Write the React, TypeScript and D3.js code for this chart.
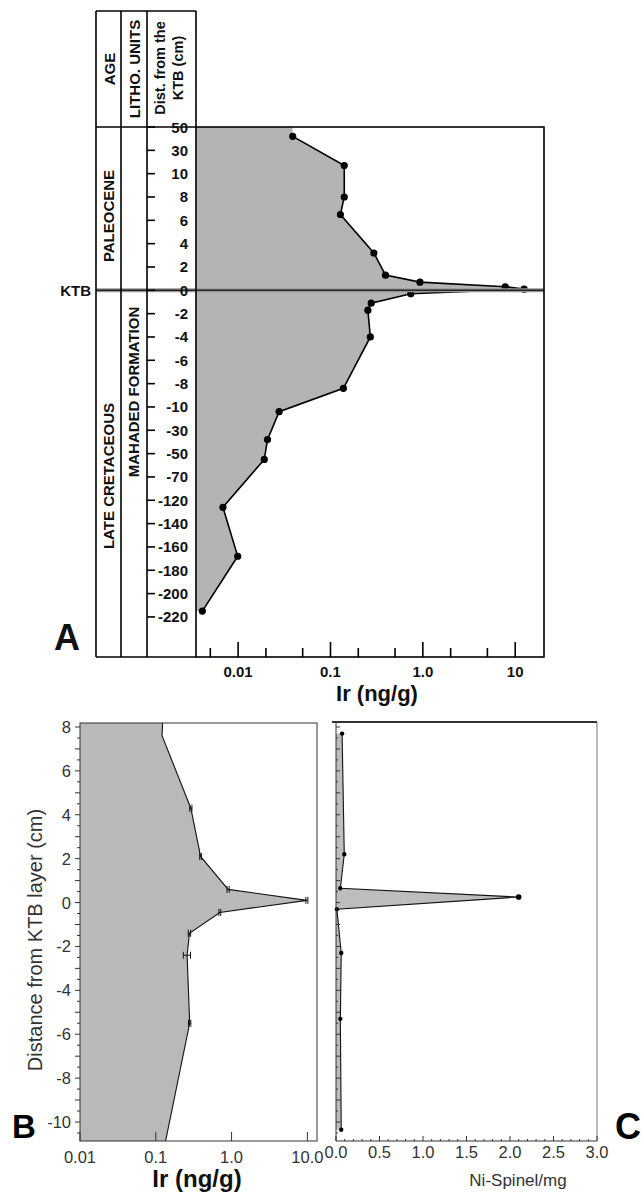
import React from "react";
import * as d3 from "d3";

const F = "'Liberation Sans', Arial, Helvetica, sans-serif";

// panel A : Ir across the KTB, uneven depth axis
const depthTicksA = [50, 30, 10, 8, 6, 4, 2, 0, -2, -4, -6, -8, -10, -30, -50, -70, -120, -140, -160, -180, -200, -220];
const distA = [42, 17, 8, 6.5, 3.2, 1.3, 0.7, 0.3, 0.1, -0.3, -1.1, -1.7, -4, -8.4, -14, -38, -55, -126, -168, -215];
const irA = [0.039, 0.141, 0.141, 0.128, 0.295, 0.394, 0.93, 7.8, 12.5, 0.74, 0.276, 0.254, 0.27, 0.138, 0.0278, 0.0208, 0.0192, 0.00685, 0.0099, 0.0041];
const irMajorA = [0.01, 0.1, 1, 10];
const irMajorLabelsA = ["0.01", "0.1", "1.0", "10"];
const irMinorA = [0.005, 0.02, 0.05, 0.2, 0.5, 2, 5];

// panel B : Ir with error bars
const distB = [8.2, 7.6, 4.3, 2.1, 0.6, 0.1, -0.45, -1.4, -2.4, -5.5, -10.9];
const irB = [0.123, 0.121, 0.29, 0.39, 0.9, 9.85, 0.7, 0.278, 0.259, 0.28, 0.134];
const errB = [0, 0, 0.01, 0.01, 0.03, 0.3, 0.02, 0.01, 0.028, 0.01, 0];
const distTicksB = [8, 6, 4, 2, 0, -2, -4, -6, -8, -10];
const irTicksB = [0.01, 0.1, 1, 10];
const irTickLabelsB = ["0.01", "0.1", "1.0", "10.0"];

// panel C : Ni-spinel
const distC = [7.7, 2.2, 0.65, 0.25, -0.3, -2.3, -5.3, -10.35];
const spinelC = [0.07, 0.095, 0.05, 2.1, 0.01, 0.06, 0.05, 0.06];
const spinelTicksC = [0, 0.5, 1, 1.5, 2, 2.5, 3];

export default function App() {
  // ---- panel A
  const aL = 196, aR = 544, aT = 127, aB = 657;
  const cols = [96, 121, 147];
  const yA = d3.scaleLinear().domain(depthTicksA).range(depthTicksA.map((_, i) => aT + i * 23.33));
  const xA = d3.scaleLog().domain([0.0035, 20.5]).range([aL, aR]);
  const ptsA = distA.map((d, i) => ({ d, v: irA[i] }));
  const fillA = d3.area<any>().y((p) => yA(p.d)).x0(aL).x1((p) => xA(p.v))([{ d: depthTicksA[0], v: irA[0] }, ...ptsA]);
  const lineA = d3.line<any>().x((p) => xA(p.v)).y((p) => yA(p.d))(ptsA);
  const ktbY = yA(0);

  // ---- panel B
  const bL = 80, bR = 317, bT = 723, bB = 1141;
  const yB = d3.scaleLinear().domain([-10, 8]).range([1122, 727]);
  const xB = d3.scaleLog().domain([0.01, 13.4]).range([bL, bR]);
  const ptsB = distB.map((d, i) => ({ d, v: irB[i], e: errB[i] }));
  const fillB = d3.area<any>().y((p) => yB(p.d)).x0(bL).x1((p) => xB(p.v))(ptsB);
  const lineB = d3.line<any>().x((p) => xB(p.v)).y((p) => yB(p.d))(ptsB);
  const minorB = d3.range(-21, 17).map((i) => i / 2);

  // ---- panel C
  const cL = 336, cR = 597, cT = 722, cB = 1141;
  const xC = d3.scaleLinear().domain([0, 3]).range([cL, cR]);
  const ptsC = distC.map((d, i) => ({ d, v: spinelC[i] }));
  const fillC = d3.area<any>().y((p) => yB(p.d)).x0(cL).x1((p) => xC(p.v))(ptsC);
  const lineC = d3.line<any>().x((p) => xC(p.v)).y((p) => yB(p.d))(ptsC);
  const minorCx = d3.range(0, 31).map((i) => i / 10);

  const rot = (x: number, y: number) => `translate(${x},${y}) rotate(-90)`;

  return (
    <svg width={641} height={1196} style={{ position: "absolute", left: 0, top: 0, background: "#fff" }} fontFamily={F}>
      <defs>
        <clipPath id="clipB"><rect x={bL} y={bT} width={bR - bL} height={bB - bT} /></clipPath>
      </defs>

      {/* ===== A ===== */}
      <path d={fillA!} fill="#b4b4b4" />
      <path d={lineA!} fill="none" stroke="#000" strokeWidth={1.6} />
      {ptsA.map((p, i) => (
        <circle key={i} cx={xA(p.v)} cy={yA(p.d)} r={3.6} fill="#000" />
      ))}
      <line x1={cols[0]} x2={aR} y1={ktbY} y2={ktbY} stroke="#999" strokeWidth={4} />
      <line x1={cols[0]} x2={aR} y1={ktbY} y2={ktbY} stroke="#222" strokeWidth={1.6} />
      <g stroke="#000" strokeWidth={1.6} fill="none">
        <rect x={aL} y={aT} width={aR - aL} height={aB - aT} />
        <line x1={cols[0]} x2={aL} y1={11} y2={11} />
        <line x1={cols[0]} x2={aL} y1={aT} y2={aT} />
        <line x1={cols[0]} x2={aL} y1={aB} y2={aB} />
        {cols.map((c) => <line key={c} x1={c} x2={c} y1={11} y2={aB} />)}
        <line x1={aL} x2={aL} y1={11} y2={aT} />
        {depthTicksA.map((t) => <line key={t} x1={cols[2]} x2={cols[2] + 8} y1={yA(t)} y2={yA(t)} />)}
        {irMajorA.map((t) => <line key={t} x1={xA(t)} x2={xA(t)} y1={aB} y2={aB - 15} />)}
        {irMinorA.map((t) => <line key={t} x1={xA(t)} x2={xA(t)} y1={aB} y2={aB - 9} />)}
      </g>
      <g fontWeight="bold" fontSize={15} fill="#111">
        {depthTicksA.map((t) => (
          <text key={t} x={188} y={yA(t)} textAnchor="end" dominantBaseline="central">{t}</text>
        ))}
        {irMajorA.map((t, i) => (
          <text key={t} x={xA(t)} y={671} textAnchor="middle" dominantBaseline="central">{irMajorLabelsA[i]}</text>
        ))}
        <text x={377} y={693} fontSize={22} textAnchor="middle" dominantBaseline="central">Ir (ng/g)</text>
        <text x={91} y={ktbY} textAnchor="end" dominantBaseline="central">KTB</text>
        <text transform={rot(109, 69)} textAnchor="middle" dominantBaseline="central">AGE</text>
        <text transform={rot(134, 69)} textAnchor="middle" dominantBaseline="central">LITHO. UNITS</text>
        <text transform={rot(160, 68)} fontSize={14.5} textAnchor="middle" dominantBaseline="central">Dist. from the</text>
        <text transform={rot(178, 68)} fontSize={14.5} textAnchor="middle" dominantBaseline="central">KTB (cm)</text>
        <text transform={rot(108, 216)} textAnchor="middle" dominantBaseline="central">PALEOCENE</text>
        <text transform={rot(108, 476)} textAnchor="middle" dominantBaseline="central">LATE CRETACEOUS</text>
        <text transform={rot(133, 392)} textAnchor="middle" dominantBaseline="central">MAHADED FORMATION</text>
        <text x={67} y={637} fontSize={36} textAnchor="middle" dominantBaseline="central">A</text>
      </g>

      {/* ===== B ===== */}
      <g clipPath="url(#clipB)">
        <path d={fillB!} fill="#b9b9b9" />
        <path d={lineB!} fill="none" stroke="#111" strokeWidth={1.1} />
      </g>
      <g stroke="#111" strokeWidth={1}>
        {ptsB.filter((p) => p.e > 0).map((p, i) => {
          const y = yB(p.d), x0 = xB(p.v - p.e), x1 = xB(p.v + p.e);
          return (
            <g key={i}>
              <line x1={x0} x2={x1} y1={y} y2={y} />
              <line x1={x0} x2={x0} y1={y - 3.5} y2={y + 3.5} />
              <line x1={x1} x2={x1} y1={y - 3.5} y2={y + 3.5} />
            </g>
          );
        })}
      </g>
      <g stroke="#333" strokeWidth={1} fill="none">
        <rect x={bL} y={bT} width={bR - bL} height={bB - bT} />
        {minorB.map((t) => (
          <line key={t} x1={bL} x2={bL - (Number.isInteger(t) ? 5 : 3)} y1={yB(t)} y2={yB(t)} />
        ))}
        {irTicksB.map((t) => <line key={t} x1={xB(t)} x2={xB(t)} y1={bB} y2={bB - 9} />)}
      </g>
      <g fontSize={16.5} fill="#333">
        {distTicksB.map((t) => (
          <text key={t} x={71} y={yB(t)} textAnchor="end" dominantBaseline="central">{t}</text>
        ))}
        {irTicksB.map((t, i) => (
          <text key={t} x={xB(t)} y={1157} textAnchor="middle" dominantBaseline="central">{irTickLabelsB[i]}</text>
        ))}
        <text transform={rot(35, 940)} fontSize={20} textAnchor="middle" dominantBaseline="central">Distance from KTB layer (cm)</text>
      </g>
      <text x={197} y={1178} fontSize={24} fontWeight="bold" fill="#111" textAnchor="middle" dominantBaseline="central">Ir (ng/g)</text>
      <text x={24} y={1126} fontSize={33} fontWeight="bold" fill="#000" textAnchor="middle" dominantBaseline="central">B</text>

      {/* ===== C ===== */}
      <path d={fillC!} fill="#bdbdbd" />
      <path d={lineC!} fill="none" stroke="#111" strokeWidth={1.1} />
      {ptsC.map((p, i) => (
        <circle key={i} cx={xC(p.v)} cy={yB(p.d)} r={p.v > 1 ? 2.8 : 2.2} fill="#000" />
      ))}
      <g stroke="#333" strokeWidth={1} fill="none">
        <line x1={cL} x2={cL} y1={cT} y2={cB} />
        <line x1={cL} x2={cR} y1={cB} y2={cB} />
        <line x1={cR} x2={cR} y1={cT} y2={cB} stroke="#777" />
        <line x1={cL - 4} x2={cR} y1={cT} y2={cT} strokeWidth={2} />
        {minorB.map((t) => (
          <line key={t} x1={cL} x2={cL + (Number.isInteger(t) ? 4 : 2)} y1={yB(t)} y2={yB(t)} />
        ))}
        {minorCx.map((t, i) => (
          <line key={i} x1={xC(t)} x2={xC(t)} y1={cB} y2={cB - (i % 5 === 0 ? 5 : 2)} />
        ))}
      </g>
      <g fontSize={16.5} fill="#333">
        {spinelTicksC.map((t) => (
          <text key={t} x={xC(t)} y={1152} textAnchor="middle" dominantBaseline="central">{t.toFixed(1)}</text>
        ))}
        <text x={518} y={1180} fontSize={17} textAnchor="middle" dominantBaseline="central">Ni-Spinel/mg</text>
      </g>
      <text x={628} y={1126} fontSize={36} fontWeight="bold" fill="#000" textAnchor="middle" dominantBaseline="central">C</text>
    </svg>
  );
}
